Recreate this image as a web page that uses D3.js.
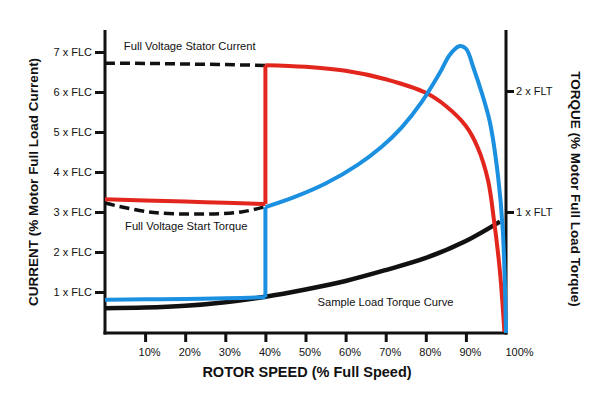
<!DOCTYPE html>
<html><head><meta charset="utf-8">
<script src="https://cdn.jsdelivr.net/npm/d3@7"></script>
<style>
html,body{margin:0;padding:0;background:#fff;}
text{font-family:"Liberation Sans",Arial,sans-serif;fill:#111;}
</style></head>
<body><svg id="c" width="600" height="394"></svg>
<script>
// ---- data ----
const speedTicks = [10,20,30,40,50,60,70,80,90,100];
const currentTicks = [1,2,3,4,5,6,7];
const currentTickLabels = ["1 x FLC","2 x FLC","3 x FLC","4 x FLC","5 x FLC","6 x FLC","7 x FLC"];
const torqueTicks = [1,2];
const torqueTickLabels = ["1 x FLT","2 x FLT"];

// full voltage stator current (dashed, current scale)
const fvCurrentSpeed = [0,10,20,30,40];
const fvCurrentValue = [6.72,6.715,6.70,6.685,6.665];
// reduced start current (red, current scale)
const redLowSpeed = [0,10,20,30,40];
const redLowValue = [3.32,3.29,3.26,3.23,3.20];
const redHighSpeed = [40,50,60,70,80,85,90,93,95.5,97,98.5,99.6];
const redHighValue = [6.67,6.63,6.53,6.32,5.98,5.65,5.15,4.6,3.8,2.8,1.5,0];
// full voltage start torque (dashed, torque scale)
const fvTorqueSpeed = [0,11,24,34,40];
const fvTorqueValue = [1.074,1.0,0.983,1.0,1.045];
// motor torque (blue, torque scale)
const blueLowSpeed = [0,10,20,30,40];
const blueLowValue = [0.275,0.278,0.282,0.287,0.295];
const blueHighSpeed = [40,47,55,63,69,74,79,83.5,86,88.3,90,92,94,96,98,99.2,100];
const blueHighValue = [1.04,1.12,1.235,1.39,1.54,1.70,1.91,2.15,2.30,2.37,2.35,2.18,1.98,1.74,1.30,0.85,0];
// sample load torque (black, torque scale)
const loadSpeed = [0,10,20,30,40,50,60,70,80,90,98.5];
const loadValue = [0.205,0.21,0.225,0.255,0.30,0.36,0.43,0.52,0.62,0.76,0.92];

const annotations = [
  {text:"Full Voltage Stator Current", s:4.7, v:7.05, scale:"I"},
  {text:"Full Voltage Start Torque", s:5.0, v:0.85, scale:"T"},
  {text:"Sample Load Torque Curve", s:53, v:0.22, scale:"T"}
];

// ---- chart ----
const svg = d3.select("#c");
const x = d3.scaleLinear().domain([0,100]).range([105,506]);
const yI = d3.scaleLinear().domain([0,7]).range([332,52]);
const yT = d3.scaleLinear().domain([0,2]).range([333,91]);
const topY = 30;

const RED="#e3261d", BLUE="#1b8fe0", BLACK="#111";

function path(sp, vals, y, color, w, dash, curve){
  const pts = sp.map((s,i)=>[s,vals[i]]);
  const line = d3.line().x(d=>x(d[0])).y(d=>y(d[1])).curve(curve||d3.curveCatmullRom.alpha(0.5));
  svg.append("path").attr("d",line(pts)).attr("fill","none")
    .attr("stroke",color).attr("stroke-width",w)
    .attr("stroke-dasharray",dash||null).attr("stroke-linecap","butt").attr("stroke-linejoin","round");
}

// axes
const gL = svg.append("g").attr("transform",`translate(${x(0)},0)`)
  .call(d3.axisLeft(yI).tickValues(currentTicks).tickFormat((d,i)=>currentTickLabels[i]).tickSize(10).tickPadding(3));
const gR = svg.append("g").attr("transform",`translate(${x(100)},0)`)
  .call(d3.axisRight(yT).tickValues(torqueTicks).tickFormat((d,i)=>torqueTickLabels[i]).tickSize(8).tickPadding(2));
const gB = svg.append("g").attr("transform",`translate(0,${yT(0)})`)
  .call(d3.axisBottom(x).tickValues(speedTicks).tickFormat(d=>d+"%").tickSize(9).tickPadding(6));
[gL,gR,gB].forEach(g=>{
  g.select(".domain").remove();
  g.selectAll(".tick line").attr("stroke",BLACK).attr("stroke-width",3);
  g.selectAll(".tick text").attr("font-size",11).attr("font-family","Liberation Sans, Arial, sans-serif").attr("fill","#111");
});
gB.selectAll(".tick text").attr("dx",(d)=>d===100?13:4);
gB.selectAll(".tick line").filter(d=>d===100).remove();

// axis lines
svg.append("line").attr("x1",x(0)).attr("x2",x(0)).attr("y1",topY).attr("y2",yT(0)+1.5).attr("stroke",BLACK).attr("stroke-width",3);
svg.append("line").attr("x1",x(100)).attr("x2",x(100)).attr("y1",topY).attr("y2",yT(0)+1.5).attr("stroke",BLACK).attr("stroke-width",3);
svg.append("line").attr("x1",x(0)-1.5).attr("x2",x(100)+1.5).attr("y1",yT(0)).attr("y2",yT(0)).attr("stroke",BLACK).attr("stroke-width",3);

// curves
path(fvCurrentSpeed,fvCurrentValue,yI,BLACK,3.5,"10,5");
path(fvTorqueSpeed,fvTorqueValue,yT,BLACK,3.5,"10,5");
path(loadSpeed,loadValue,yT,BLACK,4.5);
path(redLowSpeed,redLowValue,yI,RED,4);
path([40,40],[redLowValue[4],redHighValue[0]],yI,RED,4,null,d3.curveLinear);
path(redHighSpeed,redHighValue,yI,RED,4);
path(blueLowSpeed,blueLowValue,yT,BLUE,4);
path([40,40],[blueLowValue[4],blueHighValue[0]],yT,BLUE,4,null,d3.curveLinear);
path(blueHighSpeed,blueHighValue,yT,BLUE,4);

// annotations
annotations.forEach(a=>{
  const y = a.scale==="I"?yI:yT;
  svg.append("text").attr("x",x(a.s)).attr("y",y(a.v)).attr("font-size",11.2).text(a.text);
});

// titles
svg.append("text").attr("x",(x(0)+x(100))/2+1.5).attr("y",377).attr("text-anchor","middle")
  .attr("font-size",14.5).attr("font-weight","bold").text("ROTOR SPEED (% Full Speed)");
svg.append("text").attr("transform","translate(38,182) rotate(-90)").attr("text-anchor","middle")
  .attr("font-size",13.5).attr("font-weight","bold").text("CURRENT (% Motor Full Load Current)");
svg.append("text").attr("transform","translate(571,189) rotate(90)").attr("text-anchor","middle")
  .attr("font-size",13.5).attr("font-weight","bold").text("TORQUE (% Motor Full Load Torque)");
</script></body></html>
